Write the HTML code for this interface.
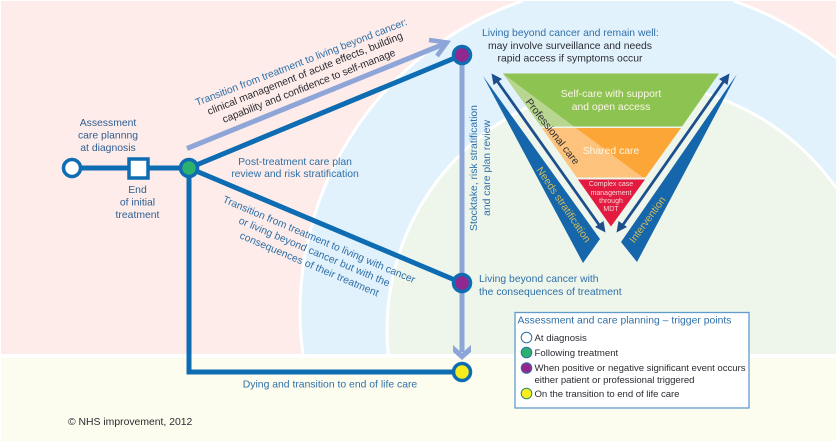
<!DOCTYPE html>
<html><head><meta charset="utf-8"><style>
html,body{margin:0;padding:0;background:#fff;width:836px;height:443px;overflow:hidden}
svg{display:block}
text{font-family:"Liberation Sans",sans-serif;font-size:10.4px}
.b{fill:#2f70a8}.n{fill:#2f5f92}.d{fill:#2b2b33}.w{fill:#fdf6e8}.g{fill:#d2bc5c}
</style></head><body>
<svg width="836" height="443" viewBox="0 0 836 443" xmlns="http://www.w3.org/2000/svg">
<rect width="836" height="443" fill="#fff"/>
<rect x="1" y="1" width="835" height="353" fill="#fdece9"/>
<rect x="1" y="358" width="835" height="83" fill="#fdfdef"/>
<path d="M302.800 354A328 328 0 0 1 522.300 1L733.700 1A328 328 0 0 1 836 57.900V354Z" fill="#e2f2fc"/>
<path d="M302.800 354A328 328 0 0 1 522.300 1M733.700 1A328 328 0 0 1 836 57.900" fill="none" stroke="#fff" stroke-width="3"/>
<path d="M388.200 354A247 247 0 0 1 836 187.900V354Z" fill="#eef6ec"/>
<path d="M388.200 354A247 247 0 0 1 836 187.900" fill="none" stroke="#fff" stroke-width="3"/>

<!-- light arrows -->
<g fill="none" stroke="#8ea5d8">
<path d="M187 148.500L444 44" stroke-width="5"/>
<path d="M462 55V352" stroke-width="5"/>
<path d="M429 40L447 42.500L437 56" stroke-width="4.500"/>
</g>
<path d="M453 345L462 353L471 345V352L462 360L453 352Z" fill="#8ea5d8"/>

<!-- main lines -->
<g fill="none" stroke="#0d6cb2" stroke-width="5">
<path d="M72 168H189L462 55"/>
<path d="M189 168L462 283"/>
<path d="M189 168V372H462"/>
</g>
<circle cx="72" cy="168" r="8.500" fill="#fff" stroke="#0d6cb2" stroke-width="3.500"/>
<rect x="129" y="159" width="19" height="19" fill="#fff" stroke="#0d6cb2" stroke-width="3.500"/>
<circle cx="189" cy="168" r="8.500" fill="#2cb06e" stroke="#0d6cb2" stroke-width="3.500"/>
<circle cx="462" cy="55" r="8.500" fill="#92278f" stroke="#0d6cb2" stroke-width="3.500"/>
<circle cx="462" cy="283" r="8.500" fill="#92278f" stroke="#0d6cb2" stroke-width="3.500"/>
<circle cx="462" cy="372" r="8.500" fill="#f7ec1e" stroke="#0d6cb2" stroke-width="3.500"/>

<!-- triangle -->
<path d="M503 73.500H719L682 126.500H541Z" fill="#8cc351"/>
<path d="M503 73.500L574 126.500H541Z" fill="#b8d68f"/>
<path d="M542 128H681L645.500 177.500H577Z" fill="#fba636"/>
<path d="M542 128H576L643 177.500H577Z" fill="#fdc27c"/>
<path d="M578 179.500H645L611 226.500Z" fill="#e31b40"/>
<path d="M483 76L600 239L583 263Z" fill="#1566aa"/>
<path d="M737 74L621 242L637 262Z" fill="#1566aa"/>
<g stroke="#1c4f8c" stroke-width="2.800" fill="none">
<path d="M495 78L602 229"/>
<path d="M620 229L726 78"/>
</g>
<g fill="#1c4f8c">
<path d="M491.500 73.500L502 79L493.500 85Z"/>
<path d="M605.500 232.500L595 227L603.500 221Z"/>
<path d="M616.500 232.500L618.500 221L627 227Z"/>
<path d="M729.500 73.500L727.500 85L719 79Z"/>
</g>

<!-- top labels -->
<text class="b" transform="translate(197 106) rotate(-21.100)" textLength="226">Transition from treatment to living beyond cancer:</text>
<text class="d" transform="translate(209 115) rotate(-21.500)" textLength="209">clinical management of acute effects, building</text>
<text class="d" transform="translate(224 123) rotate(-21.500)" textLength="185">capability and confidence to self-manage</text>

<g class="n" text-anchor="middle">
<text x="108" y="126">Assessment</text>
<text x="108" y="138.500">care plannng</text>
<text x="108" y="151">at diagnosis</text>
<text x="137.500" y="193">End</text>
<text x="137.500" y="205.500">of initial</text>
<text x="137.500" y="218">treatment</text>
</g>
<g class="b" text-anchor="middle">
<text x="295" y="165">Post-treatment care plan</text>
<text x="295" y="177">review and risk stratification</text>
<text x="330" y="387.500">Dying and transition to end of life care</text>
</g>

<text class="b" transform="translate(222 202) rotate(23)" textLength="208">Transition from treatment to living with cancer</text>
<text class="b" transform="translate(238 223) rotate(23)" textLength="163">or living beyond cancer but with the</text>
<text class="b" transform="translate(239 238) rotate(23)" textLength="150">consequences of their treatment</text>

<text class="b" x="482" y="36">Living beyond cancer and remain well:</text>
<g class="d" text-anchor="middle">
<text x="570" y="49">may involve surveillance and needs</text>
<text x="570" y="61.500">rapid access if symptoms occur</text>
</g>

<text class="b" transform="translate(477 168) rotate(-90)" text-anchor="middle">Stocktake, risk stratification</text>
<text class="b" transform="translate(490 168) rotate(-90)" text-anchor="middle">and care plan review</text>

<text class="b" x="479" y="282">Living beyond cancer with</text>
<text class="b" x="479" y="295">the consequences of treatment</text>

<!-- triangle labels -->
<g class="w" text-anchor="middle">
<text x="611" y="97">Self-care with support</text>
<text x="611" y="110">and open access</text>
<text x="611" y="154">Shared care</text>
</g>
<g fill="#f6d5d5" text-anchor="middle">
<text x="611" y="186" style="font-size:7px">Complex case</text>
<text x="611" y="195" style="font-size:7px">management</text>
<text x="611" y="203" style="font-size:7px">through</text>
<text x="611" y="211" style="font-size:7px">MDT</text>
</g>
<text class="d" transform="translate(552 132) rotate(52)" text-anchor="middle" dominant-baseline="middle">Professional care</text>
<text class="g" transform="translate(563 205) rotate(56)" text-anchor="middle" dominant-baseline="middle">Needs stratification</text>
<text class="g" transform="translate(648 220) rotate(-54)" text-anchor="middle" dominant-baseline="middle">Intervention</text>

<!-- legend -->
<rect x="515" y="312.500" width="234" height="95.500" fill="#fff" stroke="#5f9ccb" stroke-width="1.300"/>
<text class="b" x="517.500" y="323.500" textLength="214">Assessment and care planning – trigger points</text>
<circle cx="526.500" cy="337.500" r="5.300" fill="#fff" stroke="#2f70a8" stroke-width="1"/>
<circle cx="526.500" cy="352.500" r="5.300" fill="#2cb06e" stroke="#2f70a8" stroke-width="1"/>
<circle cx="526.500" cy="368" r="5.300" fill="#92278f" stroke="#2f70a8" stroke-width="1"/>
<circle cx="526.500" cy="393.500" r="5.300" fill="#f7ec1e" stroke="#2f8a70" stroke-width="1"/>
<g class="d">
<text x="534.500" y="341" style="font-size:9.600px">At diagnosis</text>
<text x="534.500" y="356" style="font-size:9.600px">Following treatment</text>
<text x="534.500" y="371" style="font-size:9.600px" textLength="211">When positive or negative significant event occurs</text>
<text x="534.500" y="383" style="font-size:9.600px" textLength="160">either patient or professional triggered</text>
<text x="534.500" y="397" style="font-size:9.600px" textLength="145">On the transition to end of life care</text>
</g>
<text class="d" x="68" y="425">© NHS improvement, 2012</text>
</svg>
</body></html>
